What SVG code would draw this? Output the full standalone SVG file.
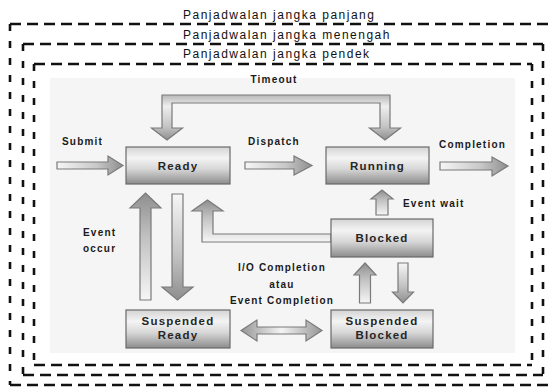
<svg xmlns="http://www.w3.org/2000/svg" width="552" height="387" viewBox="0 0 552 387">
  <defs>
    <linearGradient id="nodeFill" x1="0" y1="0" x2="0" y2="1">
      <stop offset="0" stop-color="#d4d4d4"/>
      <stop offset="0.3" stop-color="#f4f4f4"/>
      <stop offset="0.6" stop-color="#d6d6d6"/>
      <stop offset="1" stop-color="#8c8c8c"/>
    </linearGradient>
    <linearGradient id="toRight" x1="0" y1="0" x2="1" y2="0">
      <stop offset="0" stop-color="#f6f6f6"/>
      <stop offset="0.6" stop-color="#c8c8c8"/>
      <stop offset="1" stop-color="#8e8e8e"/>
    </linearGradient>
    <linearGradient id="toUp" x1="0" y1="1" x2="0" y2="0">
      <stop offset="0" stop-color="#f6f6f6"/>
      <stop offset="0.6" stop-color="#c0c0c0"/>
      <stop offset="1" stop-color="#8e8e8e"/>
    </linearGradient>
    <linearGradient id="toDown" x1="0" y1="0" x2="0" y2="1">
      <stop offset="0" stop-color="#f6f6f6"/>
      <stop offset="0.6" stop-color="#c0c0c0"/>
      <stop offset="1" stop-color="#8e8e8e"/>
    </linearGradient>
    <linearGradient id="bothEnds" x1="0" y1="0" x2="1" y2="0">
      <stop offset="0" stop-color="#959595"/>
      <stop offset="0.5" stop-color="#f4f4f4"/>
      <stop offset="1" stop-color="#959595"/>
    </linearGradient>
    <linearGradient id="loopFill" x1="0" y1="0" x2="0" y2="1">
      <stop offset="0" stop-color="#b8b8b8"/>
      <stop offset="0.25" stop-color="#eeeeee"/>
      <stop offset="0.7" stop-color="#c4c4c4"/>
      <stop offset="1" stop-color="#8e8e8e"/>
    </linearGradient>
    <style>
      .frame-h { fill: none; stroke: #111; stroke-width: 2.6; stroke-dasharray: 11 6; }
      .frame-v { fill: none; stroke: #111; stroke-width: 2.6; stroke-dasharray: 7 10; }
      .title { font-family: "Liberation Sans", Arial, sans-serif; font-size: 12px; letter-spacing: 1.5px; fill: #111; }
      .node rect { fill: url(#nodeFill); stroke: #6a6a6a; stroke-width: 1.2; }
      .node text { font-family: "Liberation Sans", Arial, sans-serif; font-weight: bold; font-size: 11.5px; letter-spacing: 1.2px; fill: #262626; text-anchor: middle; }
      .arrow { stroke: #7a7a7a; stroke-width: 1.2; stroke-linejoin: miter; }
      .label { font-family: "Liberation Sans", Arial, sans-serif; font-weight: bold; font-size: 10px; letter-spacing: 1.2px; fill: #1a1a1a; }
      .mid { text-anchor: middle; }
    </style>
  </defs>

  <rect width="552" height="387" fill="#ffffff"/>

  <!-- scheduler scope frames: long, medium and short term -->
  <g id="frames">
    <line class="frame-h" x1="10" y1="24" x2="556" y2="24"/>
    <line class="frame-v" x1="10" y1="24" x2="10" y2="385"/>
    <line class="frame-h" x1="10" y1="385" x2="556" y2="385"/>

    <line class="frame-h" x1="23" y1="44" x2="543" y2="44"/>
    <line class="frame-v" x1="23" y1="44" x2="23" y2="375"/>
    <line class="frame-v" x1="543" y1="44" x2="543" y2="375"/>
    <line class="frame-h" x1="23" y1="375" x2="543" y2="375"/>

    <line class="frame-h" x1="34" y1="64" x2="532" y2="64"/>
    <line class="frame-v" x1="34" y1="64" x2="34" y2="365"/>
    <line class="frame-v" x1="532" y1="64" x2="532" y2="365"/>
    <line class="frame-h" x1="34" y1="365" x2="532" y2="365"/>

    <text class="title" x="183" y="19">Panjadwalan jangka panjang</text>
    <text class="title" x="183" y="39">Panjadwalan jangka menengah</text>
    <text class="title" x="183" y="58">Panjadwalan jangka pendek</text>
  </g>

  <!-- state diagram panel -->
  <rect x="50" y="78" width="465" height="275" fill="#f5f5f5"/>

  <g id="connectors">
    <polygon id="submit" class="arrow" fill="url(#toRight)" points="57,162 108,162 108,156 123,165.5 108,175 108,169 57,169"/>
    <polygon id="dispatch" class="arrow" fill="url(#toRight)" points="245,162 294,162 294,156 312,165.5 294,175 294,169 245,169"/>
    <polygon id="completion" class="arrow" fill="url(#toRight)" points="440,162 492,162 492,157 508,166 492,176 492,170 440,170"/>
    <path id="timeout" class="arrow" fill="url(#loopFill)" d="M162,128 V95 H390 V128 H400.5 L385,140 L369.5,128 H380 V103 H172 V128 H182.5 L167,140 L151.5,128 Z"/>
    <polygon id="suspend-ready" class="arrow" fill="url(#toDown)" points="172,194 183,194 183,287 193,287 177.5,300 162,287 172,287"/>
    <polygon id="event-occur" class="arrow" fill="url(#toUp)" points="140,300 140,208 130,208 145.5,193 161,208 151,208 151,300"/>
    <polygon id="blocked-ready" class="arrow" fill="url(#toUp)" points="331,234 213,234 213,211 223,211 207.5,200 192,211 202,211 202,242 331,242"/>
    <polygon id="event-wait" class="arrow" fill="url(#toUp)" points="376,215 376,199 371,199 382,190 393,199 388,199 388,215"/>
    <polygon id="resume-blocked" class="arrow" fill="url(#toUp)" points="359.5,303 359.5,275 354,275 365,263 376,275 370.5,275 370.5,303"/>
    <polygon id="suspend-blocked" class="arrow" fill="url(#toDown)" points="398,263 408,263 408,292 413.5,292 403,303 392.5,292 398,292"/>
    <path id="io-completion" class="arrow" fill="url(#bothEnds)" d="M241,330.5 L257,320 V327 H306 V320 L322,330.5 L306,341 V334 H257 V341 Z"/>

    <text class="label mid" x="274" y="83">Timeout</text>
    <text class="label" x="62" y="145">Submit</text>
    <text class="label" x="248" y="145">Dispatch</text>
    <text class="label" x="439" y="148">Completion</text>
    <text class="label" x="403" y="207">Event wait</text>
    <text class="label" x="83" y="236">Event</text>
    <text class="label" x="83" y="252">occur</text>
    <text class="label mid" x="282" y="271">I/O Completion</text>
    <text class="label mid" x="282" y="288">atau</text>
    <text class="label mid" x="282" y="304">Event Completion</text>
  </g>

  <g id="ready" class="node">
    <rect x="126" y="147" width="104" height="37"/>
    <text x="178" y="169.5">Ready</text>
  </g>
  <g id="running" class="node">
    <rect x="326" y="147" width="103" height="37"/>
    <text x="377.5" y="169.5">Running</text>
  </g>
  <g id="blocked" class="node">
    <rect x="331" y="219" width="102" height="38"/>
    <text x="382" y="242">Blocked</text>
  </g>
  <g id="suspended-ready" class="node">
    <rect x="126" y="310" width="104" height="38"/>
    <text x="178" y="325">Suspended</text>
    <text x="178" y="339">Ready</text>
  </g>
  <g id="suspended-blocked" class="node">
    <rect x="331" y="310" width="102" height="38"/>
    <text x="382" y="325">Suspended</text>
    <text x="382" y="339">Blocked</text>
  </g>
</svg>
